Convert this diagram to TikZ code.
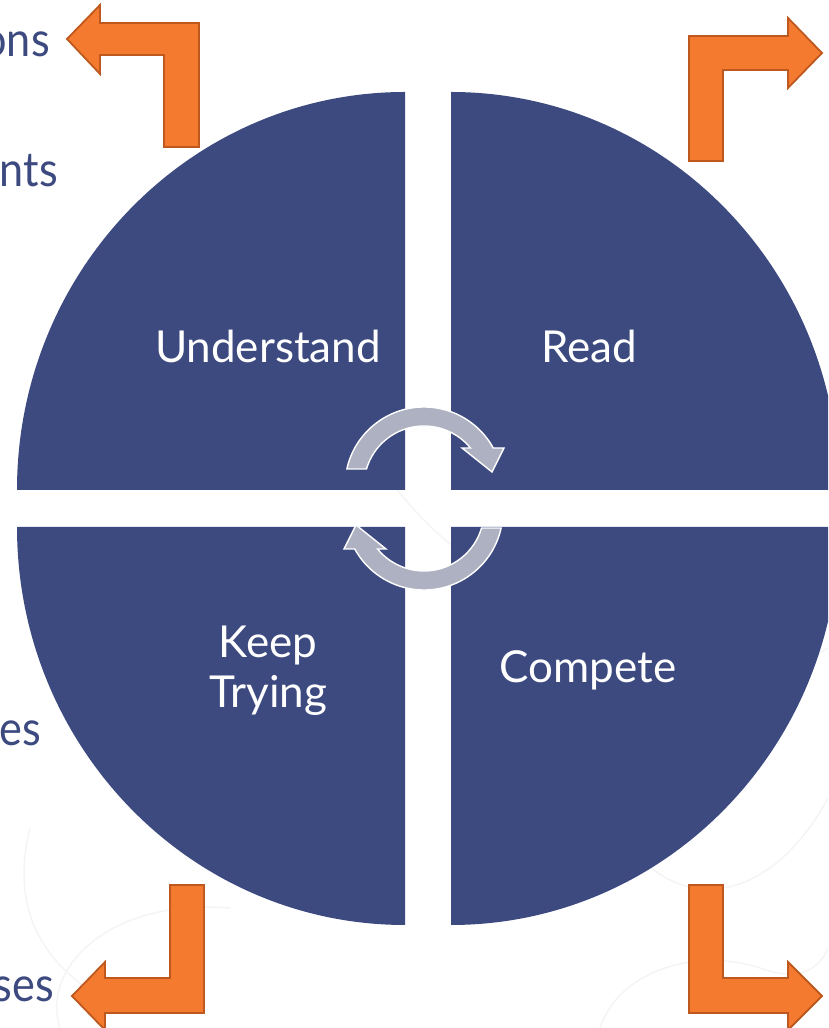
\documentclass[tikz,border=0pt]{standalone}
\usepackage{fontspec}
\setmainfont{Lato}
\newfontfamily\sidefont[FakeStretch=0.9]{Lato}
\definecolor{navy}{RGB}{61,74,128}
\definecolor{orangefill}{RGB}{244,122,48}
\definecolor{orangeline}{RGB}{190,88,30}
\definecolor{cyclegray}{RGB}{174,177,194}
\definecolor{faint}{RGB}{244,244,246}
\begin{document}
\begin{tikzpicture}[x=1pt,y=1pt,
  quadrant/.style={fill=navy},
  bentarrow/.style={fill=orangefill,draw=orangeline,line width=1.8pt,line join=miter},
  cyclearrow/.style={fill=cyclegray,draw=white,line width=1.4pt,line join=miter},
  contour/.style={draw=faint,line width=1.5pt},
  sidetext/.style={text=navy,inner sep=0pt,font=\sidefont\fontsize{48}{56}\selectfont},
  qlabel/.style={text=white,inner sep=0pt,font=\fontsize{44}{52}\selectfont,align=center}]
\useasboundingbox (0,0) rectangle (828,1028);
\clip (0,0) rectangle (828,1028);
% faint background contours
\path[contour] (30,200) .. controls (10,120) and (40,60) .. (120,20);
\path[contour] (60,0) .. controls (40,60) and (110,130) .. (230,120);
\path[contour] (640,170) .. controls (700,110) and (780,140) .. (828,230);
\path[contour] (600,0) .. controls (620,60) and (700,80) .. (760,60) .. controls (800,45) and (820,60) .. (828,80);
\path[contour] (700,280) .. controls (760,300) and (790,360) .. (828,380);
\path[contour] (330,640) .. controls (360,580) and (420,500) .. (470,470);
% quadrants
\path[quadrant] (405,538) -- (17,538) arc[start angle=180,end angle=90,x radius=388pt,y radius=398pt] -- cycle;
\path[quadrant] (451,538) -- (451,936) arc[start angle=90,end angle=0,x radius=388pt,y radius=398pt] -- cycle;
\path[quadrant] (405,501) -- (17,501) arc[start angle=180,end angle=270,x radius=388pt,y radius=398pt] -- cycle;
\path[quadrant] (451,501) -- (839,501) arc[start angle=0,end angle=-90,x radius=388pt,y radius=398pt] -- cycle;
% labels
\node[qlabel,anchor=base] (understand) at (268,665) {Understand};
\node[qlabel,anchor=base] (read) at (589,665) {Read};
\node[qlabel,anchor=base] (compete) at (588,345) {Compete};
\node[qlabel,anchor=center] (keep) at (268,357) {Keep\\[-2pt]Trying};
% cycle arrows
\path[cyclearrow] ([shift={(424,542)}]167.57:79) arc[start angle=167.57,end angle=28.75,radius=79pt]
  -- (504,580) -- (492,556) -- (462,580)
  -- ([shift={(424,542)}]39.3:60) arc[start angle=39.3,end angle=163.54,radius=60pt] -- cycle;
\begin{scope}[rotate around={180:(424,529.5)}]
\path[cyclearrow] ([shift={(424,542)}]167.57:79) arc[start angle=167.57,end angle=28.75,radius=79pt]
  -- (504,580) -- (492,556) -- (462,580)
  -- ([shift={(424,542)}]39.3:60) arc[start angle=39.3,end angle=163.54,radius=60pt] -- cycle;
\end{scope}
% orange bent arrows
\path[bentarrow] (67,989) -- (100,1023) -- (100,1005) -- (199,1005) -- (199,881) -- (164,881) -- (164,973) -- (100,973) -- (100,954) -- cycle;
\path[bentarrow] (822,975) -- (788,1010) -- (788,992) -- (689,992) -- (689,867) -- (723,867) -- (723,958) -- (788,958) -- (788,940) -- cycle;
\path[bentarrow] (72,32) -- (105,66) -- (105,50) -- (170,50) -- (170,143) -- (204,143) -- (204,15) -- (105,15) -- (105,-2) -- cycle;
\path[bentarrow] (822,32) -- (788,66) -- (788,50) -- (723,50) -- (723,143) -- (689,143) -- (689,15) -- (788,15) -- (788,-2) -- cycle;
% side texts (cut at the left edge, as in the reference)
\node[sidetext,anchor=base east] (ons) at (50,971) {ons};
\node[sidetext,anchor=base east] (nts) at (58,841) {nts};
\node[sidetext,anchor=base east] (es) at (41,282) {es};
\node[sidetext,anchor=base east] (ses) at (54,26) {ses};
\end{tikzpicture}
\end{document}
